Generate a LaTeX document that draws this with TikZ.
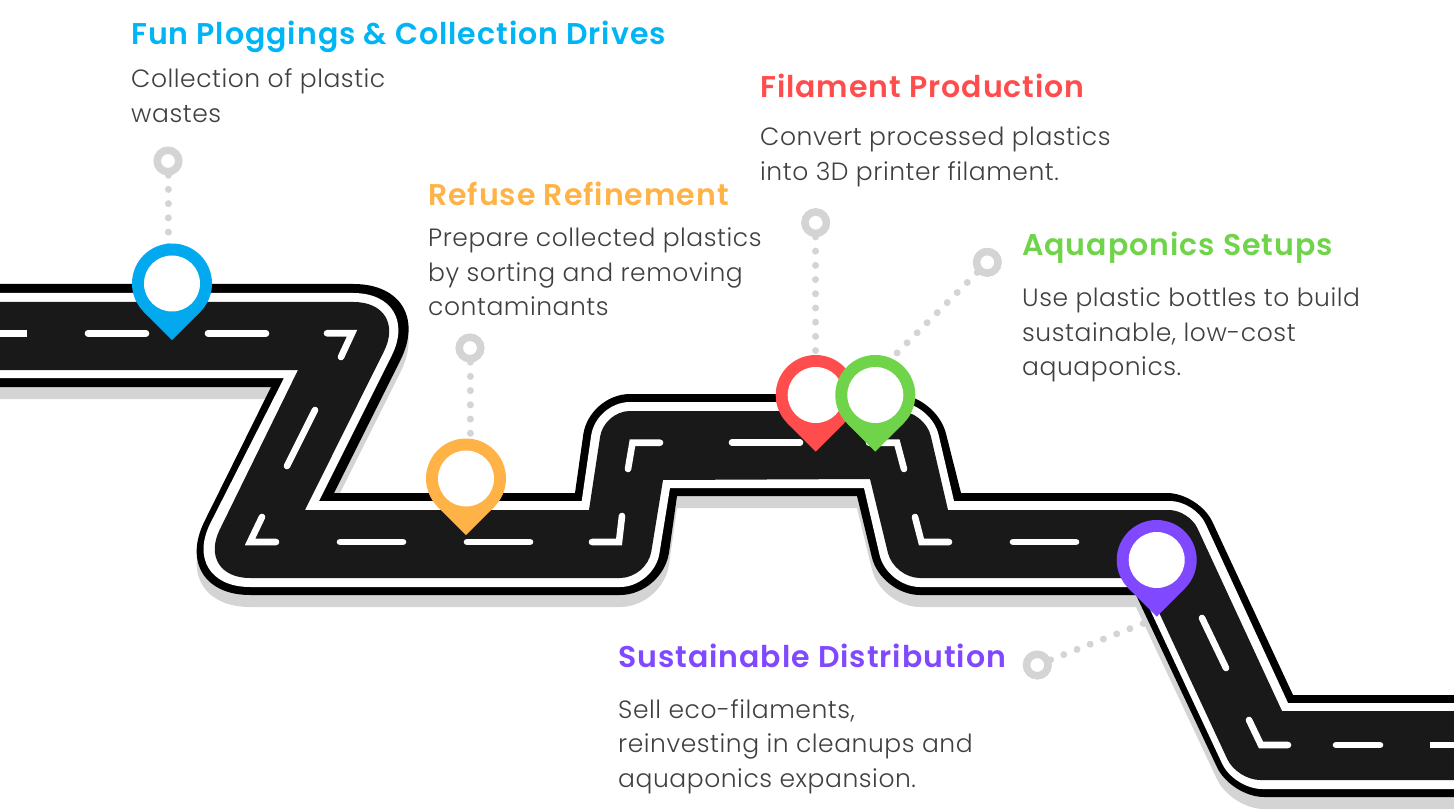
\documentclass[tikz,border=0pt]{standalone}
\usepackage{fontspec}
\setmainfont{Poppins Light}[LetterSpace=2.2]
\newfontfamily\headfont{Poppins SemiBold}[LetterSpace=3.2]
\definecolor{roadgrey}{HTML}{191919}
\definecolor{shadowgrey}{HTML}{D4D4D4}
\definecolor{bodytext}{HTML}{404040}
\definecolor{pinblue}{HTML}{03A9EE}
\definecolor{headblue}{HTML}{00B5F5}
\definecolor{pinamber}{HTML}{FFB347}
\definecolor{pinred}{HTML}{FF4D4D}
\definecolor{pingreen}{HTML}{70D44B}
\definecolor{pinviolet}{HTML}{8049FF}
\newcommand\blackroad{(0,284) [rounded corners=85pt] -- (438.5,284) [sharp corners] -- (334,493) -- (575,493)
 [rounded corners=41pt] -- (589,394) -- (936,394) [sharp corners] -- (961,493)
 [rounded corners=32pt] -- (1199,493) [sharp corners] -- (1293,695) -- (1454,695) -- (1454,797)
 [rounded corners=33pt] -- (1231,797) [sharp corners] -- (1136,595)
 [rounded corners=39pt] -- (881,595) [sharp corners] -- (857,496) -- (677,496)
 [rounded corners=43pt] -- (663,595) [rounded corners=82pt] -- (168,595) [sharp corners] -- (271,387) -- (0,387) -- cycle}
\tikzset{
  x=1pt,y=-1pt,
  lanemark/.style={white,line width=6.6pt,line cap=round,line join=miter},
  dotlink/.style={shadowgrey,line width=7pt,line cap=round,dash pattern=on 0.01pt off 14.2pt},
  marker/.style={circle,draw=shadowgrey,line width=7.4pt,fill=white,minimum size=21.4pt,inner sep=0pt},
  heading/.style={anchor=base west,inner sep=0pt,font=\headfont\fontsize{30}{34}\selectfont},
  bodycopy/.style={anchor=base west,inner sep=0pt,align=left,text=bodytext,font=\fontsize{25}{34.5}\selectfont},
  mappin/.pic={
    \fill[#1] (0,0) circle[radius=40];
    \fill[#1] (-28.28,28.28) -- (0,56.6) -- (28.28,28.28) -- cycle;
    \node[circle,fill=white,minimum size=56pt,inner sep=0pt] (-disc) at (0,0) {};
  }
}
\begin{document}
\begin{tikzpicture}
\useasboundingbox (0,0) rectangle (1454,810);
% markers and their free connector ends
\node[marker] (markA) at (168,161) {};
\node[marker] (markB) at (470,348) {};
\node[marker] (markC) at (815.7,222.7) {};
\node[marker] (markD) at (987.3,262.3) {};
\node[marker] (markE) at (1037.3,665) {};
\coordinate (endA) at (168,248);
\coordinate (endB) at (470,436);
\coordinate (endC) at (815.7,354);
\coordinate (endD) at (895,355);
\coordinate (endE) at (1147,622);
\draw[dotlink] (markA.center) -- (endA);
\draw[dotlink] (markB.center) -- (endB);
\draw[dotlink] (markC.center) -- (endC);
\draw[dotlink] (markD.center) -- (endD);
\draw[dotlink] (markE.center) -- (endE);
\node[marker] at (markA) {};
\node[marker] at (markB) {};
\node[marker] at (markC) {};
\node[marker] at (markD) {};
\node[marker] at (markE) {};
% road layers
\begin{scope}[yshift=-12pt]
\fill[shadowgrey] \blackroad;
\end{scope}
\fill[black] \blackroad;
\fill[white] (0,293) [rounded corners=70pt] -- (423,293) [sharp corners] -- (319,501) -- (581.7,501)
 [rounded corners=34pt] -- (596,402) -- (931,402) [sharp corners] -- (954,501)
 [rounded corners=25pt] -- (1195,501) [sharp corners] -- (1288,703) -- (1454,703) -- (1454,789)
 [rounded corners=28pt] -- (1234,789) [sharp corners] -- (1139.5,587)
 [rounded corners=33pt] -- (887,587) [sharp corners] -- (864,488) -- (670,488)
 [rounded corners=34pt] -- (654,587) [rounded corners=72pt] -- (178,587) [sharp corners] -- (284,378) -- (0,378) -- cycle;
\fill[roadgrey] (0,302) [rounded corners=55pt] -- (408.5,302) [sharp corners] -- (305,510) -- (589,510)
 [rounded corners=26pt] -- (604,411) -- (925,411) [sharp corners] -- (948,510)
 [rounded corners=20pt] -- (1189,510) [sharp corners] -- (1282,711) -- (1454,711) -- (1454,780)
 [rounded corners=23pt] -- (1237,780) [sharp corners] -- (1143,578)
 [rounded corners=26pt] -- (894,578) [sharp corners] -- (870,479) -- (663,480)
 [rounded corners=27pt] -- (647,578) [rounded corners=54pt] -- (196,578) [sharp corners] -- (298,370) -- (0,370) -- cycle;
% lane marks
\draw[lanemark,line cap=butt] (0,333.3) -- (27,333.3);
\draw[lanemark] (88,333.3) -- (146,333.3);
\draw[lanemark] (208,333.3) -- (266,333.3);
\draw[lanemark] (327,333.3) -- (352,333.3) -- (341,357);
\draw[lanemark] (315,410) -- (287,466);
\draw[lanemark] (262,517) -- (250,542) -- (276,542);
\draw[lanemark] (340,542) -- (403,542);
\draw[lanemark] (467,542) -- (530,542);
\draw[lanemark] (592,542) -- (619,542) -- (622,516);
\draw[lanemark] (628,469) -- (632.5,442.7) -- (660,442.7);
\draw[lanemark] (732,442.7) -- (800,442.7);
\draw[lanemark] (869,442.7) -- (897,442.7) -- (904,469);
\draw[lanemark] (915,517) -- (921.5,542) -- (949,542);
\draw[lanemark] (1013,542) -- (1076,542);
\draw[lanemark] (1202,618) -- (1226,668);
\draw[lanemark] (1249,720) -- (1261,745) -- (1288,745);
\draw[lanemark] (1336,745) -- (1380,745);
\draw[lanemark,line cap=butt] (1430,745) -- (1454,745);
% pins
\pic (pinA) at (172,283.5) {mappin=pinblue};
\pic (pinB) at (466,478.5) {mappin=pinamber};
\pic (pinC) at (815.7,395) {mappin=pinred};
\pic (pinD) at (875.3,395) {mappin=pingreen};
\pic (pinE) at (1156.7,560) {mappin=pinviolet};
% texts
\node[heading,text=headblue] (headA) at (131,44.7) {Fun Ploggings \& Collection Drives};
\node[bodycopy] (bodyA) at (131,122.5) {Collection of plastic\\wastes};
\node[heading,text=pinamber] (headB) at (428,206) {Refuse Refinement};
\node[bodycopy] (bodyB) at (428,316) {Prepare collected plastics\\by sorting and removing\\contaminants};
\node[heading,text=pinred] (headC) at (760,98) {Filament Production};
\node[bodycopy] (bodyC) at (760,180.5) {Convert processed plastics\\into 3D printer filament.};
\node[heading,text=pingreen] (headD) at (1022,256) {Aquaponics Setups};
\node[bodycopy] (bodyD) at (1022,375.5) {Use plastic bottles to build\\sustainable, low-cost\\aquaponics.};
\node[heading,text=pinviolet] (headE) at (618,667) {Sustainable Distribution};
\node[bodycopy] (bodyE) at (618,787) {Sell eco-filaments,\\reinvesting in cleanups and\\aquaponics expansion.};
\end{tikzpicture}
\end{document}
